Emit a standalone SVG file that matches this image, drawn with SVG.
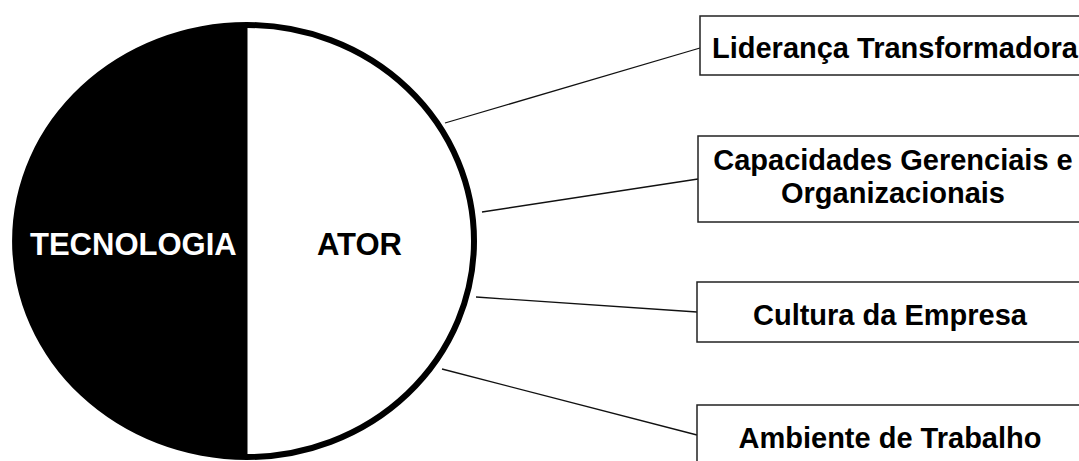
<svg xmlns="http://www.w3.org/2000/svg" width="1079" height="461" viewBox="0 0 1079 461">
<style>
.lbl{font-family:"Liberation Sans",Arial,sans-serif;font-weight:bold;font-size:29px;fill:#000}
.big{font-family:"Liberation Sans",Arial,sans-serif;font-weight:bold;font-size:31px}
.box{fill:#fff;stroke:#222;stroke-width:1.5}
.con{stroke:#111;stroke-width:1.3;fill:none}
</style>
<rect width="1079" height="461" fill="#fff"/>
<g id="circle">
<path d="M247,22 A235,219 0 0 0 247,460 Z" fill="#000"/>
<path d="M247,25 A227,216 0 0 1 247,457" fill="#fff" stroke="#000" stroke-width="6"/>
<line x1="247" y1="22" x2="247" y2="460" stroke="#000" stroke-width="1"/>
<text class="big" x="30" y="255" fill="#fff">TECNOLOGIA</text>
<text class="big" x="317" y="255" fill="#000">ATOR</text>
</g>
<g id="connectors">
<line class="con" x1="445" y1="123" x2="700" y2="48"/>
<line class="con" x1="482" y1="212" x2="698" y2="179"/>
<line class="con" x1="476" y1="297" x2="697" y2="312"/>
<line class="con" x1="442" y1="369" x2="697" y2="435"/>
</g>
<g id="n1">
<rect class="box" x="700" y="16" width="390" height="59"/>
<text class="lbl" x="712" y="58">Liderança Transformadora</text>
</g>
<g id="n2">
<rect class="box" x="698" y="136" width="390" height="86"/>
<text class="lbl" x="893" y="170" text-anchor="middle">Capacidades Gerenciais e</text>
<text class="lbl" x="893" y="203" text-anchor="middle">Organizacionais</text>
</g>
<g id="n3">
<rect class="box" x="697" y="282" width="390" height="60"/>
<text class="lbl" x="890" y="325" text-anchor="middle">Cultura da Empresa</text>
</g>
<g id="n4">
<rect class="box" x="697" y="405" width="390" height="70"/>
<text class="lbl" x="890" y="448" text-anchor="middle">Ambiente de Trabalho</text>
</g>
</svg>
